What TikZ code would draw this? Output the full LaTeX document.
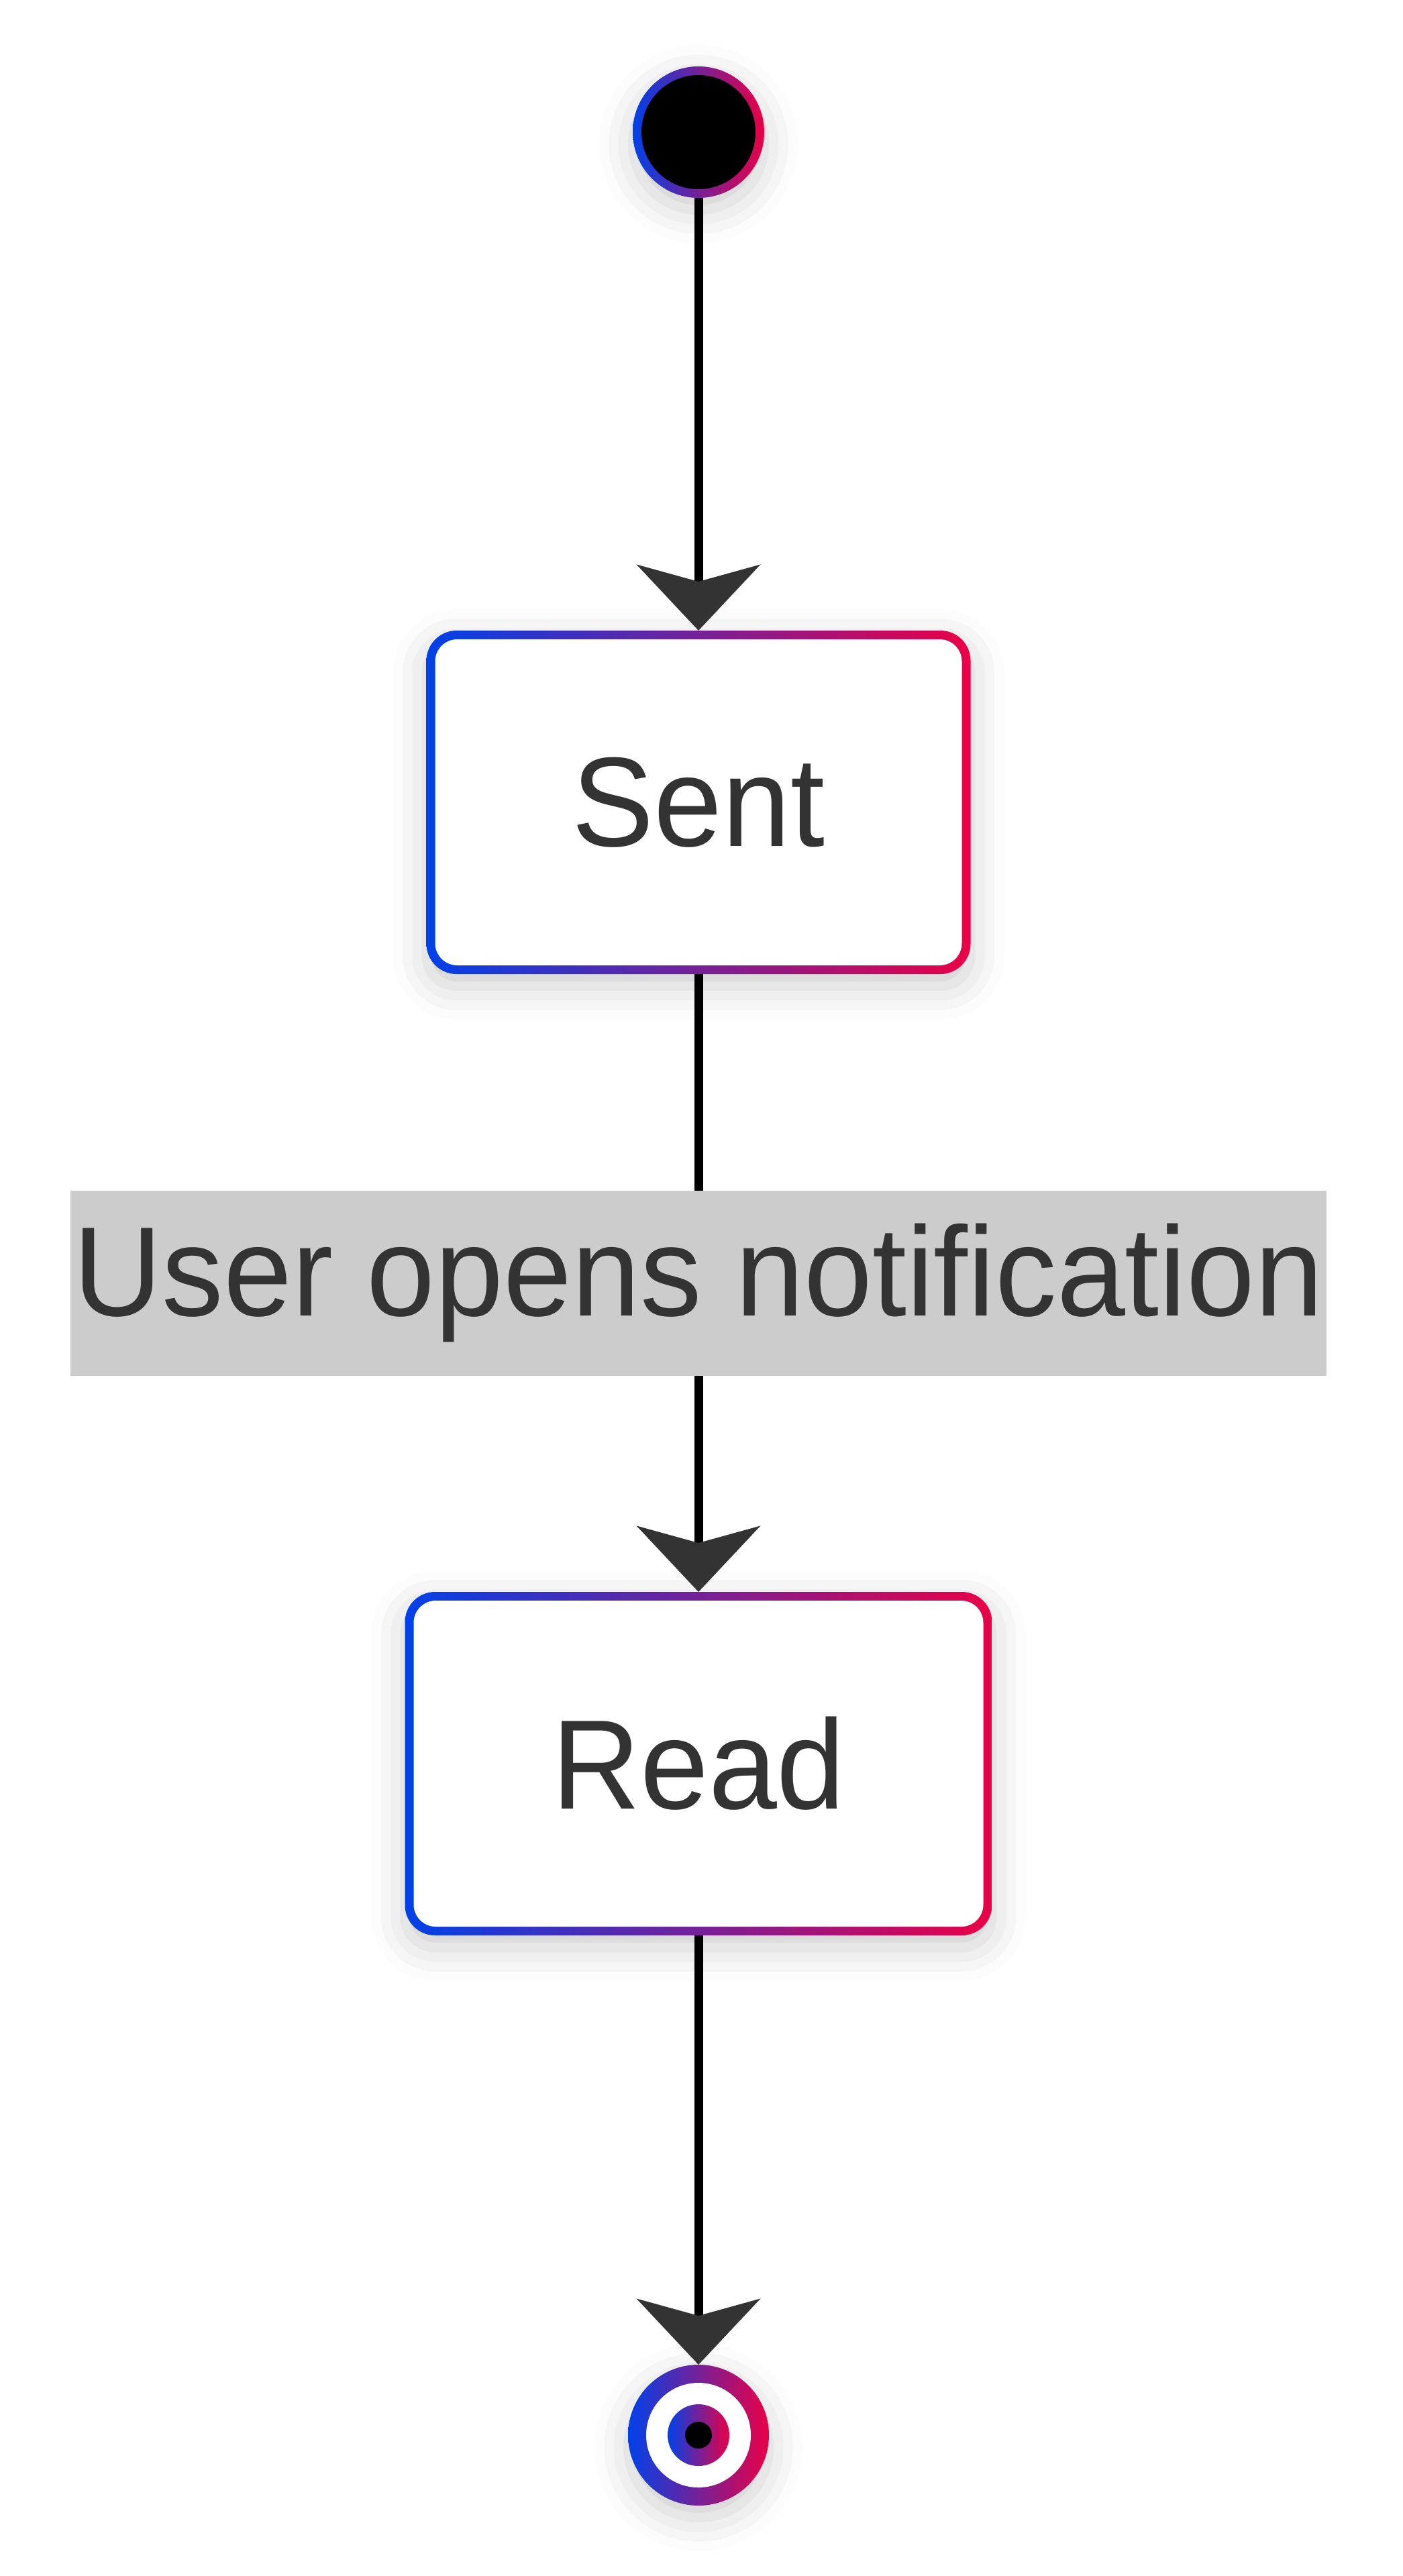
\documentclass[tikz,border=0pt]{standalone}
\usepackage{fontspec}
\setmainfont[FakeStretch=0.965]{Liberation Sans}
\usepackage{tikz}
\usetikzlibrary{arrows.meta,positioning,shadows.blur}

\definecolor{edgeblue}{HTML}{0041E9}
\definecolor{edgered}{HTML}{EA0046}
\definecolor{inkgray}{HTML}{333333}
\definecolor{tagfill}{HTML}{CCCCCC}

\begin{document}
\begin{tikzpicture}[>=Stealth, node distance=6.45cm]
        \tikzset{softshadow/.style={blur shadow={shadow xshift=0cm, shadow yshift=-0.18cm, shadow blur radius=0.5cm, shadow opacity=20}},
            state/.style={rectangle, rounded corners=0.45cm, minimum height=5.12cm, outer sep=0pt, inner sep=0pt,
                left color=edgeblue, right color=edgered, softshadow, text=inkgray, font=\fontsize{54}{60}\selectfont,
                path picture={\fill[white, rounded corners=0.33cm] ([shift={(0.13cm,0.13cm)}]path picture bounding box.south west) rectangle ([shift={(-0.13cm,-0.13cm)}]path picture bounding box.north east);}},
            initial/.style={circle, minimum size=1.96cm, outer sep=0pt, inner sep=0pt, left color=edgeblue, right color=edgered, softshadow,
                path picture={\fill[black] (path picture bounding box.center) circle (0.85cm);}},
            final/.style={circle, minimum size=2.1cm, outer sep=0pt, inner sep=0pt, left color=edgeblue, right color=edgered, softshadow,
                path picture={\fill[white] (path picture bounding box.center) circle (0.78cm);
                    \shade[left color=edgeblue, right color=edgered] (path picture bounding box.center) circle (0.46cm);
                    \fill[black] (path picture bounding box.center) circle (0.2cm);}},
            tag/.style={rectangle, fill=tagfill, text=inkgray, minimum width=18.72cm, minimum height=2.76cm, inner sep=0pt, font=\fontsize{54}{60}\selectfont},
            flow/.style={line width=0.13cm, black, -{Stealth[length=0.98cm, width=1.83cm, inset=0.25cm, color=inkgray]}}}
        \useasboundingbox (0,0) rectangle (20.91,-38.40);
        \node[initial] (start) at (10.41,-1.97) {};
        \node[state, minimum width=8.11cm, below=6.45cm of start] (sent) {Sent};
        \node[state, minimum width=8.75cm, below=9.21cm of sent] (read) {Read};
        \node[final, below=6.40cm of read] (finish) {};
        \draw[flow] (start) -- (sent);
        \draw[flow] (sent) -- node[tag] (opens) {User opens notification} (read);
        \draw[flow] (read) -- (finish);
    \end{tikzpicture}
\end{document}
